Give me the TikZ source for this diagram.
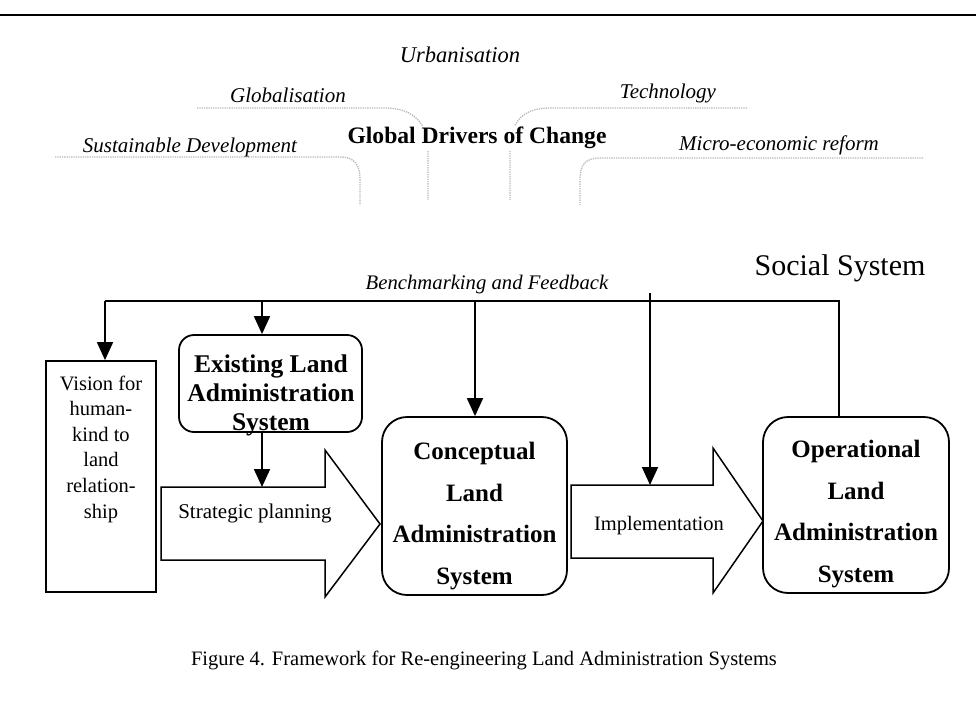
\documentclass[tikz,border=0pt]{standalone}
\usepackage{fontspec}
\setmainfont{Liberation Serif}
\usetikzlibrary{arrows.meta}
\begin{document}
\begin{tikzpicture}[x=1pt,y=-1pt,
  conn/.style={line width=1.8pt},
  arr/.style={line width=1.8pt,-{Triangle[length=18pt,width=16pt]}},
  drv/.style={font=\fontsize{21}{24}\selectfont\itshape, inner sep=1pt},
  boxtext/.style={align=center, inner sep=0pt},
  bigbox/.style={draw, line width=1.8pt, rounded corners=25pt, inner sep=0pt},
  blk/.style={draw, line width=1.5pt, fill=white, line join=miter},
  ghost/.style={draw=gray!55, line width=1.3pt, densely dotted}]
\useasboundingbox (0,0) rectangle (976,713);
\fill[white] (0,0) rectangle (976,713);
\draw[line width=2.5pt] (0,15) -- (976,15);
% faint driver arrows
\draw[ghost] (197,108) -- (385,108) .. controls (415,108) and (428,125) .. (428,150) -- (428,200);
\draw[ghost] (55,157) -- (340,157) .. controls (355,157) and (360,165) .. (360,180) -- (360,205);
\draw[ghost] (747,108) -- (550,108) .. controls (520,108) and (510,125) .. (510,150) -- (510,200);
\draw[ghost] (923,158) -- (600,158) .. controls (585,158) and (580,165) .. (580,180) -- (580,205);
% drivers
\node[drv, font=\fontsize{22.5}{24}\selectfont\itshape] (urb) at (460,55) {Urbanisation};
\node[drv] (glob) at (288,95) {Globalisation};
\node[drv] (tech) at (668,93) {Technology};
\node[drv] (sust) at (190,147) {Sustainable Development};
\node[drv] (micro) at (779,145) {Micro-economic reform};
\node[font=\bfseries\fontsize{23.6}{26}\selectfont, fill=white, inner sep=1pt] (gdc) at (477,138) {Global Drivers of Change};
% main labels
\node[font=\fontsize{30}{34}\selectfont] (social) at (840,268) {Social System};
\node[font=\itshape\fontsize{20.7}{24}\selectfont] (bench) at (487,285) {Benchmarking and Feedback};
% boxes
\node[draw, line width=1.8pt, minimum width=110pt, minimum height=231pt, inner sep=0pt] (vision) at (101,476.5) {};
\node[boxtext, font=\fontsize{20.5}{25.6}\selectfont] (visionT) at (101,449) {Vision for\\human-\\kind to\\land\\relation-\\ship};
\node[draw, line width=1.8pt, rounded corners=15pt, minimum width=183pt, minimum height=97pt, inner sep=0pt] (exist) at (270.5,383.5) {};
\node[boxtext, font=\bfseries\fontsize{25.5}{29}\selectfont] (existT) at (271,395) {Existing Land\\Administration\\System};
\node[bigbox, minimum width=185pt, minimum height=178pt] (concept) at (474.5,506) {};
\node[boxtext, font=\bfseries\fontsize{25}{41.5}\selectfont] (conceptT) at (474.5,516) {Conceptual\\Land\\Administration\\System};
\node[bigbox, minimum width=186pt, minimum height=176pt] (oper) at (856,505) {};
\node[boxtext, font=\bfseries\fontsize{25}{41.5}\selectfont] (operT) at (856,514) {Operational\\Land\\Administration\\System};
% block arrows
\draw[blk] (161,487) -- (325,487) -- (325,450) -- (380,524) -- (325,597) -- (325,560) -- (161,560) -- cycle;
\coordinate (stratTop) at (262,487);
\node[font=\fontsize{21}{24}\selectfont] (stratT) at (255,513) {Strategic planning};
\draw[blk] (571,485) -- (713,485) -- (713,448) -- (763,521) -- (713,593) -- (713,558) -- (571,558) -- cycle;
\coordinate (implTop) at (650,485);
\node[font=\fontsize{20.5}{24}\selectfont] (implT) at (659,526) {Implementation};
% feedback connectors
\coordinate (fbL) at (105,301);
\coordinate (fbR) at (839,301);
\coordinate (fb2) at (262,301);
\coordinate (fb3) at (475,301);
\coordinate (fb4) at (650,293);
\draw[conn] (fbR |- oper.north) -- (fbR) -- (fbL);
\draw[arr] (fbL) -- (fbL |- vision.north);
\draw[arr] (fb2) -- (fb2 |- exist.north);
\draw[arr] (fb3) -- (fb3 |- concept.north);
\draw[arr] (fb4) -- (implTop);
\draw[arr] (stratTop |- exist.south) -- (stratTop);
% caption
\node[font=\fontsize{20.5}{24}\selectfont] (cap) at (484,660) {Figure 4. Framework for Re-engineering Land Administration Systems};
\end{tikzpicture}
\end{document}
